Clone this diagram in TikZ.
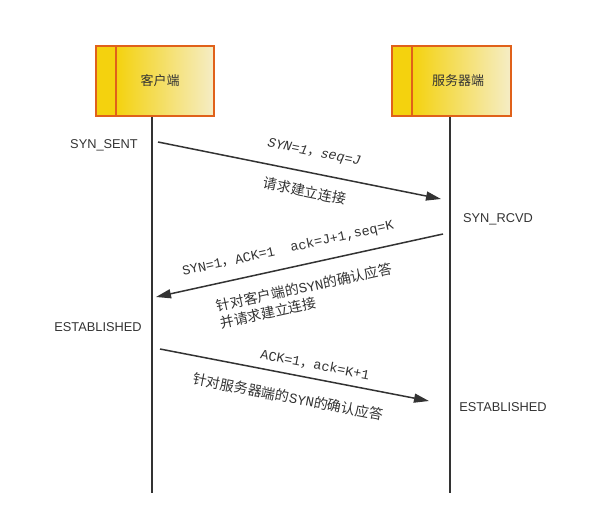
\documentclass[tikz,border=0pt]{standalone}
\usepackage{fontspec}
\setmainfont{Liberation Sans}
\newfontfamily\cjk{Noto Sans CJK SC}
\newfontfamily\lblmono{Liberation Mono}
\usetikzlibrary{arrows.meta}
\definecolor{boxedge}{HTML}{E0611A}
\definecolor{yelA}{HTML}{F4D20E}
\definecolor{yelB}{HTML}{F5EDC6}
\definecolor{ink}{HTML}{333333}
\tikzset{
  party/.style={draw=boxedge, line width=1.6pt, minimum width=118pt, minimum height=70pt, inner sep=0pt},
  life/.style={draw=ink, line width=1.4pt},
  msg/.style={draw=ink, line width=1.5pt, -{Triangle[length=15pt,width=9pt]}},
  state/.style={font=\fontsize{12.8}{14}\selectfont, text=ink},
  mlbl/.style={font=\lblmono\fontsize{13.5}{15}\selectfont, text=ink, inner sep=0pt},
  clbl/.style={font=\cjk\fontsize{14}{17.5}\selectfont, text=ink, inner sep=0pt, align=left},
}
\begin{document}
\begin{tikzpicture}[x=1pt,y=-1pt]
\useasboundingbox (0,0) rectangle (595,527);
% client box
\shade[left color=yelA, right color=yelB] (116,46) rectangle (214,116);
\fill[yelA] (96,46) rectangle (116,116);
\node[party] (cli) at (155,81) {};
\draw[boxedge, line width=1.6pt] (116,46) -- (116,116);
\node[font=\cjk\fontsize{13}{15}\selectfont, text=ink] (clit) at (160,81) {客户端};
% server box
\shade[left color=yelA, right color=yelB] (412,46) rectangle (511,116);
\fill[yelA] (392,46) rectangle (412,116);
\node[party, minimum width=119pt] (srv) at (451.5,81) {};
\draw[boxedge, line width=1.6pt] (412,46) -- (412,116);
\node[font=\cjk\fontsize{13}{15}\selectfont, text=ink] (srvt) at (458,81) {服务器端};
% lifelines
\coordinate (cend) at (152,493);
\coordinate (send) at (450,493);
\coordinate (ctop) at (152,116.8);
\coordinate (stop) at (450,116.8);
\draw[life] (ctop) -- (cend);
\draw[life] (stop) -- (send);
% states
\node[state] (s1) at (104,145) {SYN\_SENT};
\node[state] (s2) at (498,219) {SYN\_RCVD};
\node[state] (s3) at (98,327) {ESTABLISHED};
\node[state] (s4) at (503,407) {ESTABLISHED};
% message 1
\coordinate (a1s) at (158,142);
\coordinate (a1e) at (441,199);
\draw[msg] (a1s) -- (a1e);
\node[mlbl, rotate=-11.4] (l1a) at (314,153) {\textit{SYN=1}{\cjk ，}\textit{seq=J}};
\node[clbl, rotate=-11.4] (l1b) at (305,191) {请求建立连接};
% message 2
\coordinate (a2s) at (443,234);
\coordinate (a2e) at (156,297);
\draw[msg] (a2s) -- (a2e);
\node[mlbl, rotate=12.4] (l2a) at (288,249) {SYN=1{\cjk ，}ACK=1\ \ ack=J+1,seq=K};
\node[clbl, rotate=12.4] (l2b) at (306,296) {针对客户端的{\lblmono SYN}的确认应答\\并请求建立连接};
% message 3
\coordinate (a3s) at (160,349);
\coordinate (a3e) at (429,401);
\draw[msg] (a3s) -- (a3e);
\node[mlbl, rotate=-11] (l3a) at (315,365) {ACK=1{\cjk ，}ack=K+1};
\node[clbl, rotate=-11] (l3b) at (288,397) {针对服务器端的{\lblmono SYN}的确认应答};
\end{tikzpicture}
\end{document}
